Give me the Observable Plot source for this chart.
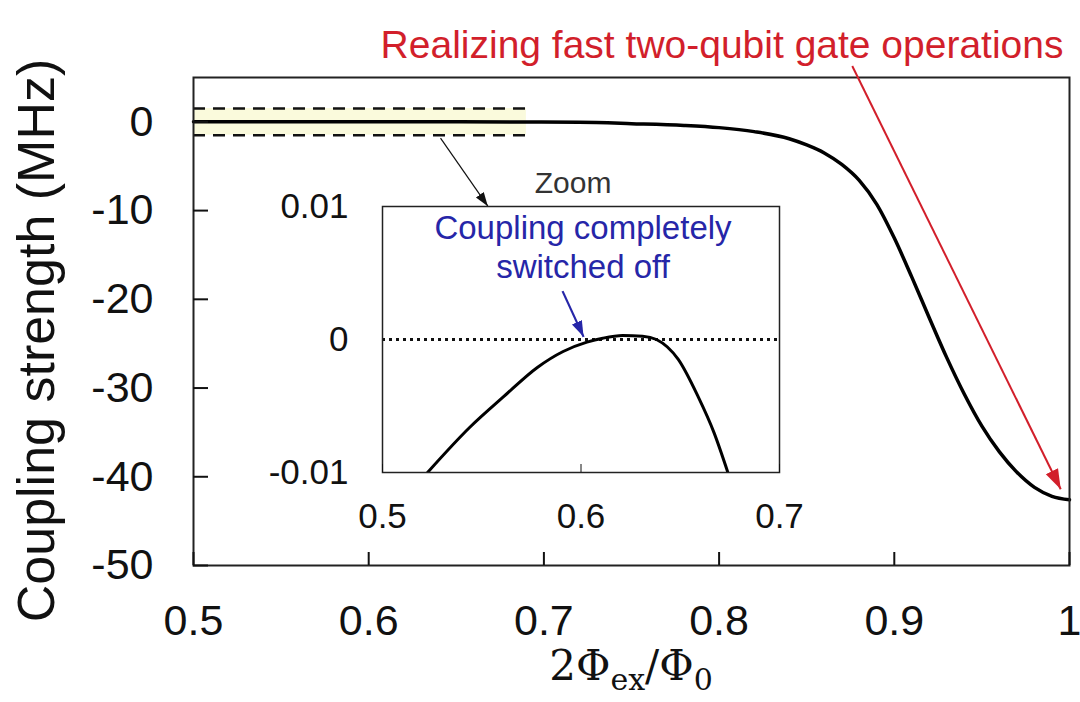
<!DOCTYPE html>
<html>
<head>
<meta charset="utf-8">
<script src="https://cdn.jsdelivr.net/npm/d3@7"></script>
<script src="https://cdn.jsdelivr.net/npm/@observablehq/plot@0.6"></script>
<style>
  html, body { margin: 0; padding: 0; background: #fff; }
  #wrap { position: relative; width: 1080px; height: 702px; overflow: hidden; }
  #wrap svg { position: absolute; }
</style>
</head>
<body>
<div id="wrap"></div>
<script>
// ---- data ----
const mainX = [0.50, 0.55, 0.60, 0.65, 0.69, 0.72, 0.75, 0.78, 0.80, 0.82, 0.84, 0.85, 0.86, 0.87, 0.88, 0.89, 0.90, 0.91, 0.92, 0.93, 0.94, 0.95, 0.96, 0.97, 0.98, 0.99, 1.00];
const mainY = [0, 0, 0, 0, -0.02, -0.05, -0.2, -0.4, -0.65, -1.1, -1.9, -2.6, -3.5, -4.8, -6.6, -9.3, -13.1, -17.5, -22.1, -26.6, -30.7, -34.3, -37.2, -39.5, -41.2, -42.2, -42.6];

const insetX = [0.5227, 0.544, 0.561, 0.578, 0.591, 0.603, 0.611, 0.621, 0.631, 0.638, 0.649, 0.659, 0.667, 0.674];
const insetY = [-0.0100, -0.0066, -0.0043, -0.0021, -0.0009, -0.0002, 0.0001, 0.0003, 0.00025, 0.0000, -0.0015, -0.0043, -0.0070, -0.0100];

const mainXTicks = [0.5, 0.6, 0.7, 0.8, 0.9, 1];
const mainYTicks = [0, -10, -20, -30, -40, -50];
const insetXTicks = [0.5, 0.6, 0.7];
const insetYTicks = [0.01, 0, -0.01];

const zoomBandX = [0.5, 0.69];
const zoomBandY = [-1.5, 1.5];

const titleText = "Realizing fast two-qubit gate operations";
const yLabel = "Coupling strength (MHz)";
const zoomLabel = "Zoom";
const blueNote = ["Coupling completely", "switched off"];

// annotation anchors (data space)
const redArrow = [{x1: 0.876, y1: 6.3, x2: 0.995, y2: -41.4}];
const blackArrow = [{x1: 0.641, y1: -1.84, x2: 0.668, y2: -9.5}];
const blueArrow = [{x1: 0.5907, y1: 0.00364, x2: 0.6013, y2: 0.0002}];
const blueNoteY = [0.00833, 0.00545];

// ---- build ----
const mainData = mainX.map((x, i) => ({x, y: mainY[i]}));
const insetData = insetX.map((x, i) => ({x, y: insetY[i]}));
const band = [{x1: zoomBandX[0], x2: zoomBandX[1], y1: zoomBandY[0], y2: zoomBandY[1]}];
const fmt = d => String(d);

const RED = "#d21f2b", BLUE = "#2626a8", INK = "#111111";
const sans = "'Liberation Sans', Arial, sans-serif";

const main = Plot.plot({
  width: 1080, height: 702,
  marginTop: 77, marginBottom: 137, marginLeft: 193, marginRight: 11,
  style: {fontFamily: sans, background: "#fff", overflow: "visible", color: INK},
  x: {domain: [0.5, 1], label: null},
  y: {domain: [-50, 5], label: null},
  marks: [
    Plot.rect(band, {x1: "x1", x2: "x2", y1: "y1", y2: "y2", fill: "#fafadc"}),
    Plot.ruleY(zoomBandY, {y: d => d, x1: zoomBandX[0], x2: zoomBandX[1], stroke: INK, strokeWidth: 2.5, strokeDasharray: "12,8"}),
    Plot.line(mainData, {x: "x", y: "y", curve: "monotone-x", stroke: "#000", strokeWidth: 3.5}),
    Plot.frame({stroke: "#222", strokeWidth: 2}),
    Plot.axisX(mainXTicks, {tickSize: -13, tickPadding: 52, fontSize: 43, tickFormat: fmt, strokeWidth: 2, label: null, fill: INK}),
    Plot.axisY(mainYTicks, {tickSize: -15, tickPadding: 55, fontSize: 43, tickFormat: fmt, strokeWidth: 2, label: null, fill: INK}),
    Plot.link(redArrow, {x1: "x1", y1: "y1", x2: "x2", y2: "y2", stroke: RED, strokeWidth: 2, markerEnd: "arrow"}),
    Plot.link(blackArrow, {x1: "x1", y1: "y1", x2: "x2", y2: "y2", stroke: INK, strokeWidth: 1.2, markerEnd: "arrow"}),
    Plot.text([titleText], {text: d => d, frameAnchor: "top-right", textAnchor: "end", dx: -6, dy: -47, fontSize: 39, fill: RED}),
    Plot.text([yLabel], {text: d => d, frameAnchor: "left", textAnchor: "middle", rotate: -90, dx: -156, dy: 19, fontSize: 52, fill: INK})
  ]
});
main.style.left = "0px";
main.style.top = "0px";

const inset = Plot.plot({
  width: 517, height: 376,
  marginLeft: 100, marginRight: 20, marginTop: 40, marginBottom: 70,
  style: {fontFamily: sans, background: "transparent", overflow: "visible", color: INK},
  x: {domain: [0.5, 0.7], label: null},
  y: {domain: [-0.01, 0.01], label: null},
  marks: [
    Plot.ruleY([0], {stroke: INK, strokeWidth: 3, strokeDasharray: "3,4"}),
    Plot.line(insetData, {x: "x", y: "y", curve: "monotone-x", stroke: "#000", strokeWidth: 3, clip: true}),
    Plot.frame({stroke: "#222", strokeWidth: 1.5}),
    Plot.axisX(insetXTicks, {tickSize: -8, tickPadding: 39, fontSize: 35, tickFormat: fmt, label: null, fill: INK}),
    Plot.axisY(insetYTicks, {tickSize: 0, tickPadding: 34, fontSize: 35, tickFormat: fmt, label: null, fill: INK}),
    Plot.text([zoomLabel], {text: d => d, x: 0.596, y: 0.0117, fontSize: 30, fill: "#333"}),
    Plot.text(blueNote, {text: d => d, x: 0.601, y: (d, i) => blueNoteY[i], fontSize: 33, fill: BLUE}),
    Plot.link(blueArrow, {x1: "x1", y1: "y1", x2: "x2", y2: "y2", stroke: BLUE, strokeWidth: 2.2, markerEnd: "arrow"})
  ]
});
inset.style.left = "282px";
inset.style.top = "166px";

// filled arrow heads
const headSize = {[RED]: 20, [INK]: 14, [BLUE]: 16};
function fillMarkers(svg) {
  d3.select(svg).selectAll("marker").each(function () {
    const m = d3.select(this);
    const c = m.attr("stroke");
    const s = headSize[c] || 14;
    m.attr("viewBox", "-10 -5 10 10").attr("refX", 0).attr("refY", 0)
      .attr("markerUnits", "userSpaceOnUse")
      .attr("markerWidth", s).attr("markerHeight", s)
      .attr("fill", c).attr("stroke", "none");
    m.selectAll("path").attr("d", "M-10,-3.4L0,0L-10,3.4Z");
  });
}
fillMarkers(main);
fillMarkers(inset);

// x-axis title with subscripts
const xs = main.scale("x");
const t = d3.select(main).append("text")
  .attr("x", xs.apply(0.75)).attr("y", 680)
  .attr("text-anchor", "middle")
  .attr("fill", INK)
  .style("font-family", "'DejaVu Serif', 'Liberation Serif', serif")
  .style("font-size", "42px");
t.append("tspan").text("2Φ");
t.append("tspan").attr("dy", 10).style("font-size", "30px").text("ex");
t.append("tspan").attr("dy", -10).text("/Φ");
t.append("tspan").attr("dy", 10).style("font-size", "30px").text("0");

const wrap = document.getElementById("wrap");
wrap.appendChild(main);
wrap.appendChild(inset);
</script>
</body>
</html>
